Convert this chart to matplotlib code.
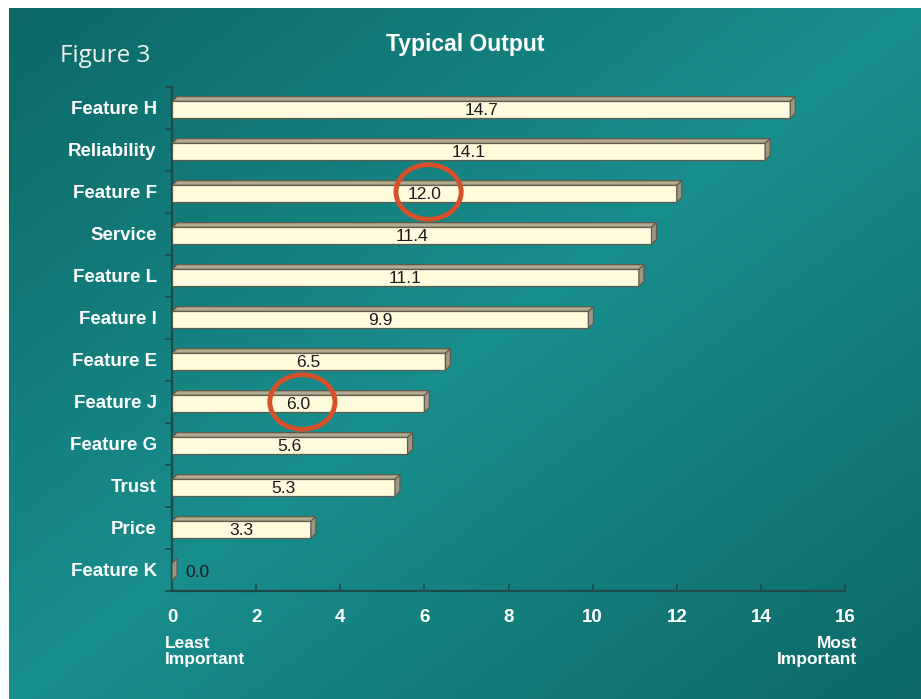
import matplotlib
matplotlib.use('Agg')
from matplotlib import pyplot as plt
from matplotlib.patches import Polygon, Ellipse
import numpy as np

features = ['Feature K', 'Price', 'Trust', 'Feature G', 'Feature J', 'Feature E',
            'Feature I', 'Feature L', 'Service', 'Feature F', 'Reliability', 'Feature H']
scores = [0.0, 3.3, 5.3, 5.6, 6.0, 6.5, 9.9, 11.1, 11.4, 12.0, 14.1, 14.7]
circled = ['Feature F', 'Feature J']
x_ticks = [0, 2, 4, 6, 8, 10, 12, 14, 16]

LABEL_FONT = ['Liberation Sans Narrow', 'Liberation Sans', 'DejaVu Sans']

fig = plt.figure(figsize=(9.21, 6.99), dpi=100)
fig.patch.set_facecolor('white')

# teal backdrop: light along the rising diagonal, darker toward the corners
bg = fig.add_axes([9 / 921, 0, 1 - 9 / 921, 1 - 8 / 699])
u, v = np.meshgrid(np.linspace(0, 1, 300), np.linspace(0, 1, 300))
d = np.clip(np.abs(u + v - 1) / np.sqrt(2) / 0.72, 0, 1)
light = np.array([0x18, 0x8e, 0x8d]) / 255
dark = np.array([0x0c, 0x68, 0x65]) / 255
img = light[None, None, :] * (1 - d[..., None]) + dark[None, None, :] * d[..., None]
bg.imshow(img, aspect='auto', extent=[0, 1, 1, 0])
bg.axis('off')

ax = fig.add_axes([172 / 921, 1 - 591 / 699, (845 - 172) / 921, (591 - 87) / 699])
ax.set_facecolor('none')
ax.set_xlim(0, 16)
ax.set_ylim(-0.5, len(features) - 0.5)

h = 0.40     # bar thickness in rows
dx = 0.12    # depth offset in x units
dy = 0.11    # depth offset in rows
edge = '#5e5b4c'

for i, (name, val) in enumerate(zip(features, scores)):
    y0, y1 = i - h / 2 - 0.04, i + h / 2 - 0.04
    # front face
    ax.add_patch(Polygon([(0, y0), (val, y0), (val, y1), (0, y1)], closed=True,
                         facecolor='#fffbdc', edgecolor=edge, lw=0.9, zorder=3))
    # top face
    ax.add_patch(Polygon([(0, y1), (val, y1), (val + dx, y1 + dy), (dx, y1 + dy)], closed=True,
                         facecolor='#b3ab8f', edgecolor=edge, lw=0.9, zorder=3))
    # side face
    ax.add_patch(Polygon([(val, y0), (val + dx, y0 + dy), (val + dx, y1 + dy), (val, y1)], closed=True,
                         facecolor='#9c9884', edgecolor=edge, lw=0.9, zorder=3))
    if val > 0:
        ax.text(val / 2, i - 0.05, f'{val:.1f}', ha='center', va='center', fontsize=12.5,
                color='#1a1a1a', family=LABEL_FONT, zorder=4)
    else:
        ax.text(dx + 0.2, i - 0.05, f'{val:.1f}', ha='left', va='center', fontsize=12.5,
                color='#1a1a1a', family=LABEL_FONT, zorder=4)
    if name in circled:
        ax.add_patch(Ellipse((val / 2 + 0.1, i), 1.55, 1.3, fill=False,
                             edgecolor='#d4512b', lw=3.5, zorder=5))

# axes styling
for side in ['top', 'right']:
    ax.spines[side].set_visible(False)
for side in ['left', 'bottom']:
    ax.spines[side].set_color('#1f4a48')
    ax.spines[side].set_linewidth(1.6)

ax.set_yticks(range(len(features)))
ax.set_yticklabels(features)
ax.set_yticks(np.arange(-0.5, len(features), 1), minor=True)
ax.tick_params(axis='y', which='major', length=0, pad=11, labelsize=13.5, labelcolor='white')
ax.tick_params(axis='y', which='minor', length=5, width=1.2, color='#1f4a48', direction='out')
for lbl in ax.get_yticklabels():
    lbl.set_fontweight('bold')
    lbl.set_family(LABEL_FONT)

ax.set_xticks(x_ticks)
ax.set_xticklabels([str(t) for t in x_ticks])
ax.tick_params(axis='x', length=5, width=1.2, color='#1f4a48', direction='in',
               pad=13, labelsize=13.5, labelcolor='white')
for lbl in ax.get_xticklabels():
    lbl.set_fontweight('bold')
    lbl.set_family(LABEL_FONT)

fig.text(165 / 921, 1 - 636 / 699, 'Least\nImportant', ha='left', va='top', color='white',
         fontsize=12.5, fontweight='bold', family=LABEL_FONT, linespacing=1.12)
fig.text(857 / 921, 1 - 636 / 699, 'Most\nImportant', ha='right', va='top', color='white',
         fontsize=12.5, fontweight='bold', family=LABEL_FONT, linespacing=1.12, multialignment='right')

fig.text(465 / 921, 1 - 45 / 699, 'Typical Output', ha='center', va='center', color='white',
         fontsize=16.5, fontweight='bold', family=LABEL_FONT)
fig.text(60 / 921, 1 - 56 / 699, 'Figure 3', ha='left', va='center', color='#eef2ee',
         fontsize=17.5, family=['Open Sans', 'DejaVu Sans'])

plt.savefig('out.png', dpi=100)
